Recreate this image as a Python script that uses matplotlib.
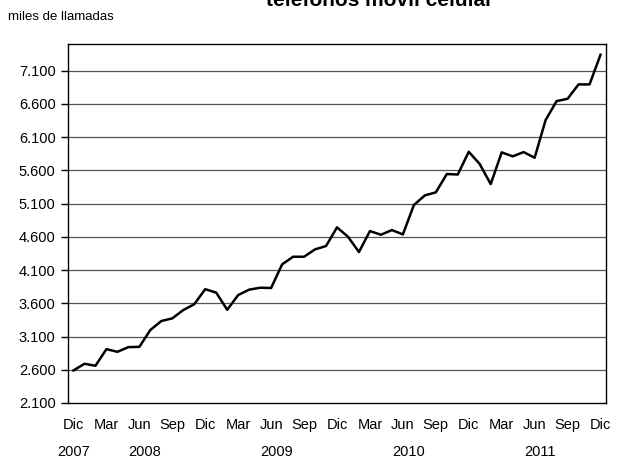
import matplotlib
matplotlib.use("Agg")
import matplotlib.pyplot as plt
import matplotlib.transforms as mtransforms

plt.rcParams['font.family'] = ['Liberation Sans', 'DejaVu Sans']

# Monthly values, Dic 2007 .. Dic 2011 (miles de llamadas)
values = [2590, 2690, 2660, 2910, 2870, 2940, 2945, 3198, 3333, 3373,
          3498, 3586, 3812, 3760, 3502, 3724, 3805, 3834, 3830, 4185,
          4300, 4300, 4411, 4461, 4742, 4601, 4371, 4686, 4631, 4701,
          4636, 5077, 5223, 5268, 5544, 5537, 5879, 5694, 5393, 5870,
          5810, 5874, 5789, 6356, 6641, 6676, 6892, 6892, 7338]
month_labels = ["Dic", "Mar", "Jun", "Sep"] * 4 + ["Dic"]
year_labels = ["2007", "2008", "2009", "2010", "2011"]
year_positions = [0, 6.5, 18.5, 30.5, 42.5]
y_ticks = list(range(2100, 7101, 500))
title = "teléfonos móvil celular"
ylabel = "miles de llamadas"

fig = plt.figure(figsize=(6.19, 4.59), dpi=100)
ax = fig.add_axes([68/619, 56/459, 538/619, 359/459])

x = list(range(len(values)))
ax.plot(x, values, color='black', linewidth=1.8, zorder=3)

ax.set_xlim(-0.5, len(values) - 0.5)
ax.set_ylim(2100, 7500)
ax.set_yticks(y_ticks)
ax.set_yticklabels([f"{v:,}".replace(",", ".") for v in y_ticks], fontsize=10.5)
ax.tick_params(axis='y', length=5, width=1, pad=4, direction='out')
ax.set_xticks(list(range(0, len(values), 3)))
ax.set_xticklabels(month_labels, fontsize=10.5)
ax.tick_params(axis='x', length=0, pad=11)

for v in y_ticks[1:]:
    ax.axhline(v, color='#555555', linewidth=0.9, zorder=1)
for s in ax.spines.values():
    s.set_color('black')
    s.set_linewidth(1.0)

trans = mtransforms.blended_transform_factory(ax.transData, fig.transFigure)
for pos, lab in zip(year_positions, year_labels):
    fig.text(pos, 1 - 452/459, lab, transform=trans, ha='center', va='center', fontsize=10.5)

fig.text(8/619, 1 - 17/459, ylabel, ha='left', va='center', fontsize=9.5)
fig.text(380/619, 1 - 5.5/459, title, ha='center', va='baseline', fontsize=15, fontweight='bold')

fig.savefig("out.png", dpi=100)
